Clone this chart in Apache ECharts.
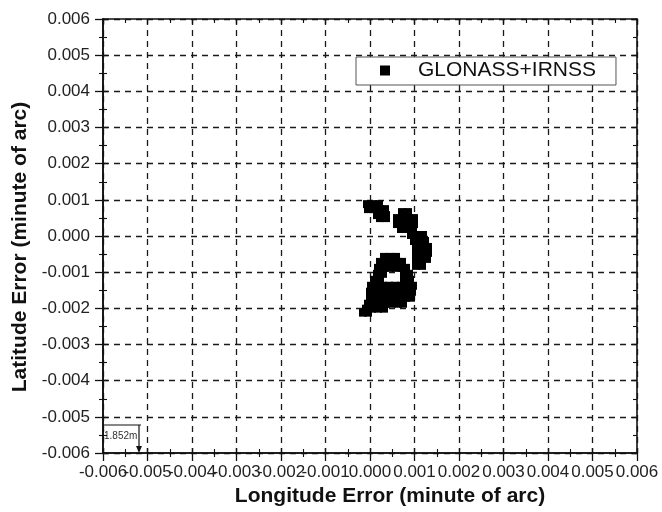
<!DOCTYPE html>
<html><head><meta charset="utf-8">
<script src="https://cdn.jsdelivr.net/npm/echarts@6/dist/echarts.min.js"></script>
<style>html,body{margin:0;padding:0;background:#fff}#c{width:662px;height:512px}</style>
</head><body><div id="c"></div>
<script>
const seriesName = 'GLONASS+IRNSS';
const xTitle = 'Longitude Error (minute of arc)';
const yTitle = 'Latitude Error (minute of arc)';
const scaleText = '1.852m';
const axisMin = -0.006, axisMax = 0.006, axisStep = 0.001;

// Longitude error (minute of arc) of each fix
const lonErr = [
  // upper-left group
  -0.000067, 0.000067, 0.000202,
  -0.000045, 0.000090, 0.000225, 0.000337,
  0.000157, 0.000292, 0.000360,
  0.000225, 0.000360,
  // right group
  0.000719, 0.000854,
  0.000607, 0.000742, 0.000876, 0.000989,
  0.000607, 0.000742, 0.000876, 0.000989,
  0.000697, 0.000831, 0.000966,
  0.000921, 0.001056, 0.001191,
  0.000989, 0.001124, 0.001236,
  0.001034, 0.001169, 0.001303,
  0.001034, 0.001169, 0.001303,
  0.001034, 0.001169, 0.001281,
  0.001034, 0.001169,
  // lower group
  0.000315, 0.000449, 0.000584,
  0.000225, 0.000360, 0.000494, 0.000629, 0.000719,
  0.000180, 0.000315, 0.000449, 0.000584, 0.000719, 0.000809,
  0.000157, 0.000292, 0.000764, 0.000876,
  0.000090, 0.000225, 0.000764, 0.000899,
  0.000022, 0.000157, 0.000292, 0.000427, 0.000562, 0.000697, 0.000831, 0.000966,
  0.000000, 0.000135, 0.000270, 0.000404, 0.000539, 0.000674, 0.000809, 0.000944,
  0.000000, 0.000135, 0.000270, 0.000404, 0.000539, 0.000674, 0.000809, 0.000921,
  -0.000045, 0.000090, 0.000225, 0.000360, 0.000494, 0.000629, 0.000742,
  -0.000090, 0.000045, 0.000180, 0.000315,
  -0.000157, -0.000045
];
// Latitude error (minute of arc) of each fix
const latErr = [
  0.000881, 0.000881, 0.000881,
  0.000743, 0.000743, 0.000743, 0.000743,
  0.000578, 0.000578, 0.000578,
  0.000495, 0.000495,
  0.000661, 0.000661,
  0.000495, 0.000495, 0.000495, 0.000495,
  0.000330, 0.000330, 0.000330, 0.000330,
  0.000193, 0.000193, 0.000193,
  0.000028, 0.000028, 0.000028,
  -0.000138, -0.000138, -0.000138,
  -0.000303, -0.000303, -0.000303,
  -0.000468, -0.000468, -0.000468,
  -0.000633, -0.000633, -0.000633,
  -0.000826, -0.000826,
  -0.000578, -0.000578, -0.000578,
  -0.000716, -0.000716, -0.000716, -0.000716, -0.000716,
  -0.000881, -0.000881, -0.000881, -0.000881, -0.000881, -0.000881,
  -0.001046, -0.001046, -0.001046, -0.001046,
  -0.001211, -0.001211, -0.001211, -0.001211,
  -0.001376, -0.001376, -0.001376, -0.001376, -0.001376, -0.001376, -0.001376, -0.001376,
  -0.001541, -0.001541, -0.001541, -0.001541, -0.001541, -0.001541, -0.001541, -0.001541,
  -0.001706, -0.001706, -0.001706, -0.001706, -0.001706, -0.001706, -0.001706, -0.001706,
  -0.001872, -0.001872, -0.001872, -0.001872, -0.001872, -0.001872, -0.001872,
  -0.002009, -0.002009, -0.002009, -0.002009,
  -0.002119, -0.002119
];

const points = lonErr.map((x, i) => [x, latErr[i]]);
const ink = '#111';
const font = "'Liberation Sans', Arial, sans-serif";
const fmt = v => (Math.round(v * 1000) / 1000).toFixed(3);
const isMin = v => Math.abs(v - axisMin) < 1e-9;
// x axis: the first label is drawn by the overlay axis so that the overlapping labels all stay visible
const fmtXRest = v => isMin(v) ? '' : fmt(v);
const fmtXFirst = v => isMin(v) ? fmt(v) : '';

function labelStyle(isX, formatter) {
  return { show: true, formatter, fontSize: 17, color: '#222', fontFamily: font,
           margin: isX ? 11 : 13, showMinLabel: true, showMaxLabel: true, hideOverlap: false };
}
function mainAxis(isX) {
  return {
    type: 'value', min: axisMin, max: axisMax, interval: axisStep,
    position: isX ? 'bottom' : 'left',
    axisLine: { show: true, onZero: false, lineStyle: { color: ink, width: 1.6 } },
    axisTick: { show: true, inside: false, length: 8, lineStyle: { color: ink, width: 1.3 } },
    minorTick: { show: true, splitNumber: 2, length: 4, lineStyle: { color: ink, width: 1.1 } },
    axisLabel: labelStyle(isX, isX ? fmtXRest : fmt),
    splitLine: { show: true, lineStyle: { color: '#1a1a1a', width: 1.3, type: [6, 5] } },
    name: isX ? xTitle : yTitle,
    nameLocation: 'middle',
    nameGap: isX ? 33 : 69,
    nameTextStyle: isX
      ? { fontSize: 21, fontWeight: 'bold', color: ink, fontFamily: font, padding: [0, 0, 0, 40] }
      : { fontSize: 21, fontWeight: 'bold', color: ink, fontFamily: font, padding: [0, 22, 0, 0] }
  };
}
function frameAxis(position, label) {
  return {
    type: 'value', min: axisMin, max: axisMax, interval: axisStep, position,
    axisLine: { show: true, onZero: false, lineStyle: { color: ink, width: 1.6 } },
    axisTick: { show: true, inside: true, length: 5, lineStyle: { color: ink, width: 1.3 } },
    minorTick: { show: true, splitNumber: 2, length: 4, lineStyle: { color: ink, width: 1.1 } },
    axisLabel: label || { show: false },
    splitLine: { show: false }
  };
}

const chart = echarts.init(document.getElementById('c'), null, { renderer: 'canvas' });
chart.setOption({
  animation: false,
  backgroundColor: '#fff',
  grid: { left: 103, right: 25, top: 19, bottom: 57, containLabel: false },
  xAxis: [mainAxis(true), frameAxis('bottom', labelStyle(true, fmtXFirst)), frameAxis('top')],
  yAxis: [mainAxis(false), frameAxis('left'), frameAxis('right')],
  legend: {
    data: [seriesName], left: 356, top: 57,
    icon: 'rect', itemWidth: 10, itemHeight: 10,
    padding: [3, 20, 4, 24],
    borderColor: '#555', borderWidth: 1, backgroundColor: '#fff',
    textStyle: { fontSize: 21, color: ink, fontFamily: font, padding: [0, 0, 0, 23] }
  },
  graphic: [
    { type: 'line', shape: { x1: 103, y1: 425, x2: 141, y2: 425 }, style: { stroke: ink, lineWidth: 1.2 } },
    { type: 'line', shape: { x1: 139, y1: 425, x2: 139, y2: 451 }, style: { stroke: ink, lineWidth: 1.2 } },
    { type: 'polygon', shape: { points: [[136, 446], [142, 446], [139, 453]] }, style: { fill: ink } },
    { type: 'text', x: 104, y: 431, style: { text: scaleText, fontSize: 10, fill: '#333', font: "10px 'Liberation Sans', Arial" } }
  ],
  series: [{
    name: seriesName, type: 'scatter', xAxisIndex: 0, yAxisIndex: 0,
    symbol: 'rect', symbolSize: 8, itemStyle: { color: '#000', opacity: 1 },
    data: points
  }]
});
</script></body></html>
